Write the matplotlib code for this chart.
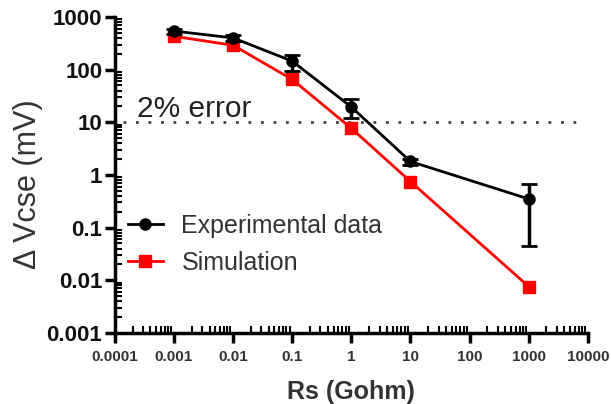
import numpy as np
import matplotlib
matplotlib.use("Agg")
import matplotlib.pyplot as plt
from matplotlib.lines import Line2D
from matplotlib.ticker import LogLocator, FixedLocator, NullFormatter

plt.rcParams['font.family'] = ['Liberation Sans', 'DejaVu Sans']

# data
rs = [0.001, 0.01, 0.1, 1, 10, 1000]
exp_v = [540, 400, 145, 19.5, 1.8, 0.35]
exp_lo = [60, 50, 50, 7.5, 0.25, 0.305]
exp_hi = [60, 60, 45, 8.0, 0.25, 0.32]
sim_v = [430, 290, 65, 7.7, 0.75, 0.0076]
err_level = 10

xticks = [0.0001, 0.001, 0.01, 0.1, 1, 10, 100, 1000, 10000]
xtick_labels = ["0.0001", "0.001", "0.01", "0.1", "1", "10", "100", "1000", "10000"]
yticks = [0.001, 0.01, 0.1, 1, 10, 100, 1000]
ytick_labels = ["0.001", "0.01", "0.1", "1", "10", "100", "1000"]

fig = plt.figure(figsize=(6.11, 4.04), dpi=100)
ax = fig.add_axes([0.188, 0.176, 0.774, 0.782])

ax.plot(rs, sim_v, color="red", lw=2, marker="s", ms=8, zorder=3)
ax.errorbar(rs, exp_v, yerr=[exp_lo, exp_hi], color="black", lw=2, marker="o", ms=8,
            capsize=6, capthick=2, elinewidth=2.5, zorder=4)

ax.axhline(err_level, xmin=0.017, xmax=0.983, color="#444444", lw=2.0, ls=(0, (1, 3.5)), zorder=1)
ax.text(0.00024, 12.5, "2% error", fontsize=21.5, color="#222222", va="baseline")

ax.set_xscale("log")
ax.set_yscale("log")
ax.set_xlim(0.0001, 10000)
ax.set_ylim(0.001, 1000)

ax.xaxis.set_major_locator(FixedLocator(xticks))
ax.set_xticklabels(xtick_labels, fontsize=11, fontweight="bold", color="#333333")
ax.yaxis.set_major_locator(FixedLocator(yticks))
ax.set_yticklabels(ytick_labels, fontsize=16, fontweight="bold", color="#111111")
ax.xaxis.set_minor_locator(LogLocator(base=10, subs=np.arange(2, 10), numticks=20))
ax.yaxis.set_minor_locator(LogLocator(base=10, subs=np.arange(2, 10), numticks=20))
ax.xaxis.set_minor_formatter(NullFormatter())
ax.yaxis.set_minor_formatter(NullFormatter())

ax.tick_params(which="major", direction="out", length=7, width=2.5, pad=2)
ax.tick_params(axis="x", which="major", pad=5)
ax.tick_params(which="minor", direction="in", length=5, width=1.5)

for s in ["top", "right"]:
    ax.spines[s].set_visible(False)
for s in ["left", "bottom"]:
    ax.spines[s].set_linewidth(2.5)

ax.set_ylabel("\u0394 Vcse (mV)", fontsize=22, color="#333333")
ax.yaxis.set_label_coords(-0.152, 0.47)
ax.set_xlabel("Rs (Gohm)", fontsize=18, fontweight="bold", color="#333333")
ax.xaxis.set_label_coords(0.5, -0.15)

handles = [Line2D([], [], color="black", lw=2, marker="o", ms=8),
           Line2D([], [], color="red", lw=2, marker="s", ms=8)]
labels = ["Experimental data", "Simulation"]
ax.legend(handles, labels, loc="center left", bbox_to_anchor=(0.027, 0.28),
          borderaxespad=0, borderpad=0, frameon=False, fontsize=18,
          handlelength=1.4, handletextpad=0.75, labelspacing=0.5,
          labelcolor="#333333")

fig.savefig("out.png", dpi=100)
